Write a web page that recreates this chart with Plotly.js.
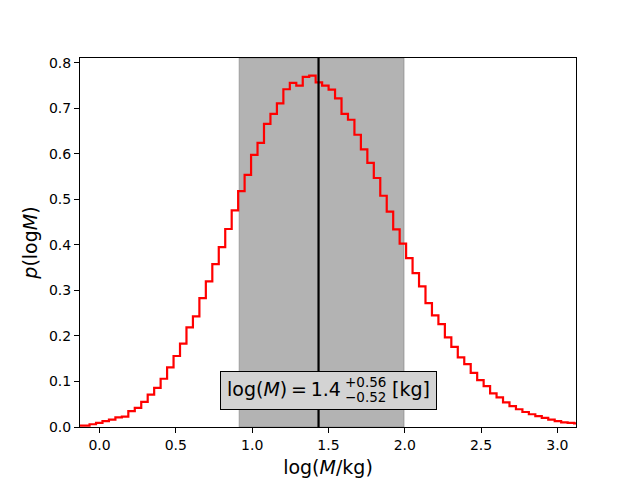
<!DOCTYPE html>
<html>
<head>
<meta charset="utf-8">
<script src="https://cdn.plot.ly/plotly-3.0.1.min.js"></script>
<style>
  html, body { margin: 0; padding: 0; background: #fff; }
  #chart { width: 640px; height: 480px; }
</style>
</head>
<body>
<div id="chart"></div>
<script>
// histogram of log(M) samples, uniform bins
var binStart = -0.150;
var binWidth = 0.04233;
var density = [
	0.003, 0.003, 0.006, 0.009, 0.013, 0.016, 0.021, 0.023, 0.035, 0.042,
	0.055, 0.071, 0.086, 0.106, 0.131, 0.156, 0.183, 0.219, 0.243, 0.283,
	0.320, 0.358, 0.395, 0.435, 0.476, 0.518, 0.554, 0.598, 0.624, 0.666,
	0.688, 0.711, 0.742, 0.756, 0.750, 0.769, 0.772, 0.757, 0.750, 0.741,
	0.722, 0.688, 0.675, 0.642, 0.610, 0.580, 0.547, 0.508, 0.473, 0.434,
	0.403, 0.371, 0.338, 0.309, 0.272, 0.245, 0.226, 0.197, 0.176, 0.153,
	0.138, 0.119, 0.103, 0.090, 0.074, 0.065, 0.054, 0.046, 0.039, 0.033,
	0.028, 0.024, 0.020, 0.016, 0.013, 0.010, 0.009, 0.008
];

// summary stats
var median = 1.435;
var lower = 0.915;
var upper = 1.995;
var medianLabel = '1.4';
var plusLabel = '+0.56';
var minusLabel = '\u22120.52';

var xTicks = [0.0, 0.5, 1.0, 1.5, 2.0, 2.5, 3.0];
var xTickText = ['0.0', '0.5', '1.0', '1.5', '2.0', '2.5', '3.0'];
var yTicks = [0.0, 0.1, 0.2, 0.3, 0.4, 0.5, 0.6, 0.7, 0.8];
var yTickText = ['0.0', '0.1', '0.2', '0.3', '0.4', '0.5', '0.6', '0.7', '0.8'];

var edges = [];
var stepY = [];
var i;
for (i = 0; i <= density.length; i++) {
	edges.push(binStart + i * binWidth);
	stepY.push(density[Math.min(i, density.length - 1)]);
}

var data = [{
	x : edges,
	y : stepY,
	type : 'scatter',
	mode : 'lines',
	line : { shape : 'hv', color : 'red', width : 2.2 },
	hoverinfo : 'skip',
	showlegend : false
}];

var font = 'DejaVu Sans, sans-serif';
var annX = 1.5, annY = 0.08;

var layout = {
	width : 640,
	height : 480,
	paper_bgcolor : '#ffffff',
	plot_bgcolor : '#ffffff',
	margin : { l : 80, r : 64, t : 58, b : 53 },
	font : { family : font, size : 14, color : '#000' },
	showlegend : false,
	xaxis : {
		range : [-0.128, 3.122],
		tickvals : xTicks,
		ticktext : xTickText,
		ticks : 'outside',
		ticklen : 5,
		tickwidth : 1,
		tickcolor : '#000',
		tickfont : { family : font, size : 14 },
		showline : true,
		linecolor : '#000',
		linewidth : 1,
		mirror : true,
		showgrid : false,
		zeroline : false,
		title : { text : 'log(<i>M</i>/kg)', font : { family : font, size : 19 }, standoff : 8 }
	},
	yaxis : {
		range : [0, 0.8106],
		tickvals : yTicks,
		ticktext : yTickText,
		ticks : 'outside',
		ticklen : 5,
		tickwidth : 1,
		tickcolor : '#000',
		tickfont : { family : font, size : 14 },
		showline : true,
		linecolor : '#000',
		linewidth : 1,
		mirror : true,
		showgrid : false,
		zeroline : false,
		title : { text : '<i>p</i>(log<i>M</i>)', font : { family : font, size : 19 }, standoff : 6 }
	},
	shapes : [{
		type : 'rect', xref : 'x', yref : 'paper',
		x0 : lower, x1 : upper, y0 : 0, y1 : 1,
		fillcolor : 'rgba(128,128,128,0.6)',
		line : { color : 'rgba(128,128,128,0.6)', width : 1 },
		layer : 'below'
	}, {
		type : 'line', xref : 'x', yref : 'paper',
		x0 : median, x1 : median, y0 : 0, y1 : 1,
		line : { color : '#000', width : 2.2 },
		layer : 'above'
	}],
	annotations : [{
		// box
		x : annX, y : annY, xref : 'x', yref : 'y',
		text : ' ', showarrow : false,
		width : 215, height : 37,
		xshift : -0.3,
		bgcolor : '#d3d3d3', bordercolor : '#000', borderwidth : 1, borderpad : 0
	}, {
		x : annX, y : annY, xref : 'x', yref : 'y',
		text : 'log(<i>M</i>)\u2009=\u2009' + medianLabel, showarrow : false,
		xanchor : 'right', yanchor : 'middle', xshift : 15, yshift : 2,
		font : { family : font, size : 19 }
	}, {
		x : annX, y : annY, xref : 'x', yref : 'y',
		text : plusLabel, showarrow : false,
		xanchor : 'center', yanchor : 'middle', xshift : 37, yshift : 9,
		font : { family : font, size : 13.5 }
	}, {
		x : annX, y : annY, xref : 'x', yref : 'y',
		text : minusLabel, showarrow : false,
		xanchor : 'center', yanchor : 'middle', xshift : 37, yshift : -6,
		font : { family : font, size : 13.5 }
	}, {
		x : annX, y : annY, xref : 'x', yref : 'y',
		text : '[kg]', showarrow : false,
		xanchor : 'left', yanchor : 'middle', xshift : 62, yshift : 2,
		font : { family : font, size : 19 }
	}]
};

var config = { displayModeBar : false, staticPlot : true };
Plotly.newPlot(document.getElementById('chart'), data, layout, config);
</script>
</body>
</html>
